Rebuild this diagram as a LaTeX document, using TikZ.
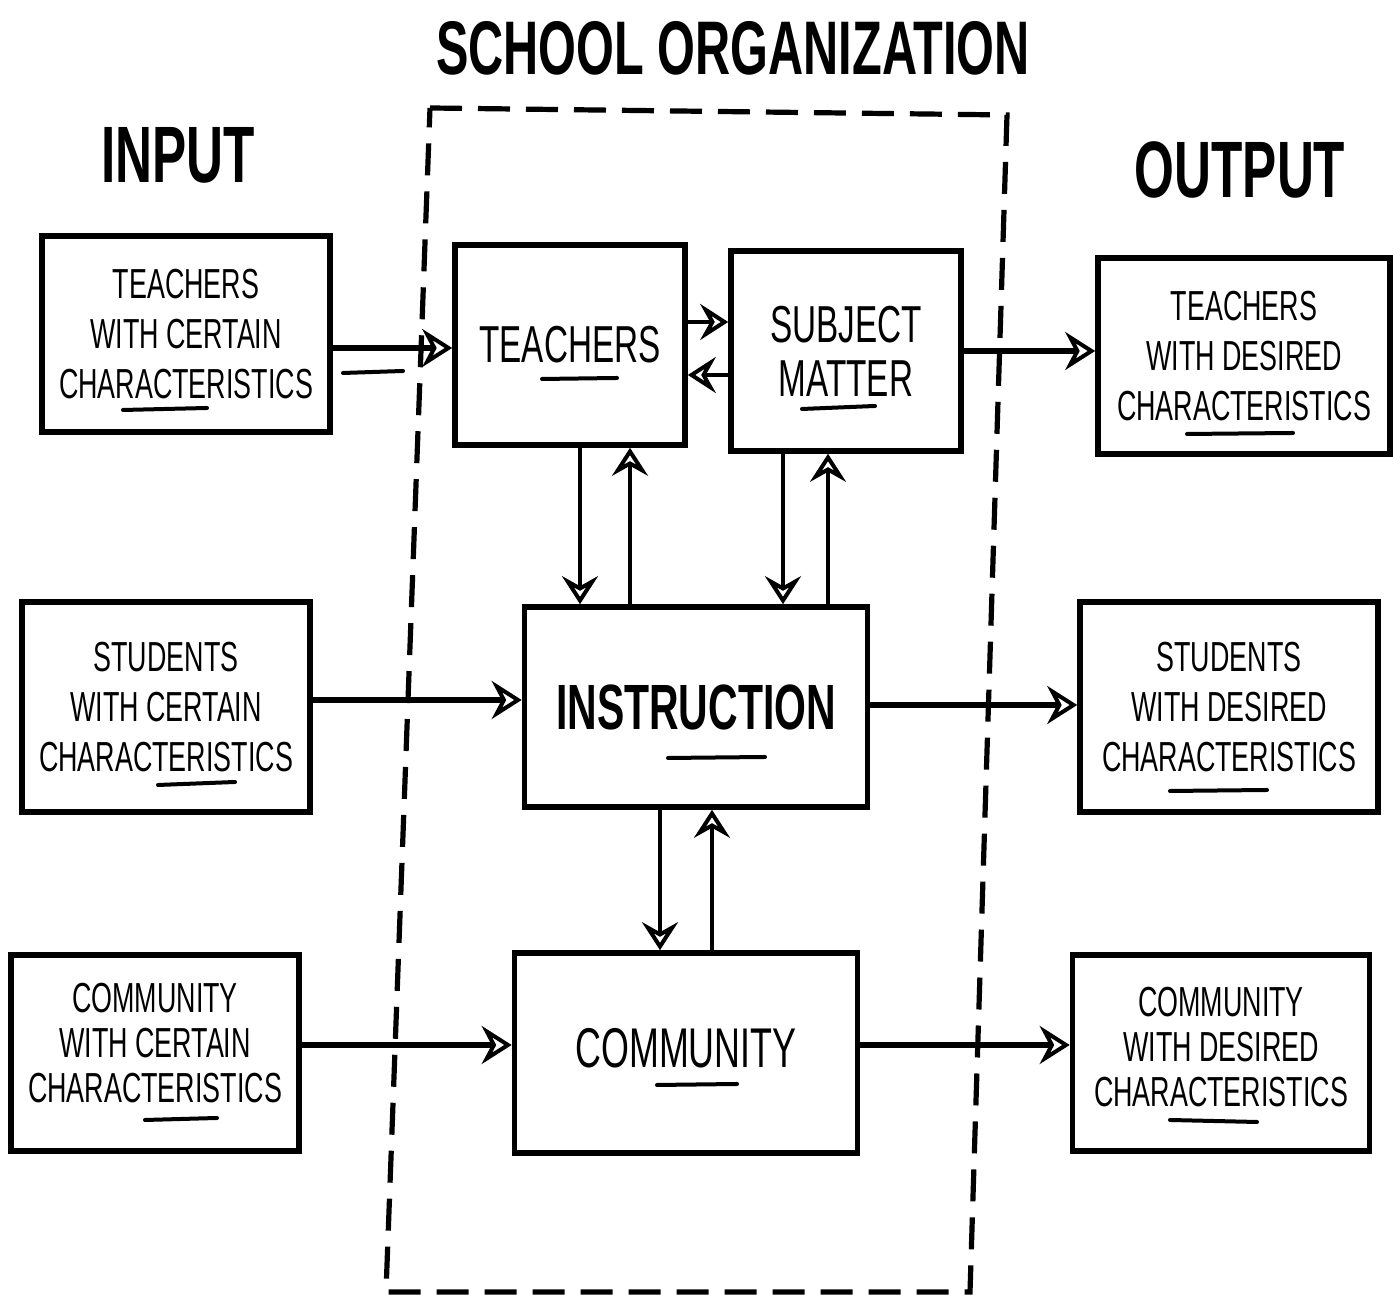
\documentclass[tikz,border=0pt]{standalone}
\usepackage{fontspec}
\usepackage{tikz}
\usetikzlibrary{arrows.meta}
\newfontfamily\handfont[FakeStretch=0.64]{Liberation Sans}

\begin{document}
\begin{tikzpicture}[x=0.25pt, y=-0.25pt, font=\handfont\fontsize{10.5}{12.5}\selectfont,
                    side/.style = {draw, line width=1.4pt, minimum width=72pt, minimum height=49pt, align=center, inner sep=2pt},
                    low/.style = {side, font=\handfont\fontsize{10.5}{11.25}\selectfont},
                    core/.style = {draw, line width=1.4pt, minimum width=57.5pt, minimum height=50pt, align=center, font=\handfont\fontsize{13}{13.5}\selectfont},
                    wide/.style = {core, minimum width=85.75pt},
                    head/.style = {font=\handfont\bfseries\fontsize{20}{22}\selectfont},
                    flow/.style = {-{Stealth[open, length=7.5pt, width=9.5pt, inset=2.5pt, line width=1pt]}, line width=1.7pt},
                    link/.style = {-{Stealth[open, length=7pt, width=9pt, inset=2.5pt, line width=1pt]}, line width=1pt},
                    ink/.style = {line width=1pt, line cap=round},
                    frame/.style = {line width=1.3pt, dash pattern=on 8pt off 4pt}]
                    \useasboundingbox (0,0) rectangle (1393,1301);
                    \node[head, font=\handfont\bfseries\fontsize{19}{22}\selectfont] (title) at (733,48) {SCHOOL ORGANIZATION};
                    \node[head] (inlab) at (178,155) {INPUT};
                    \node[head] (outlab) at (1240,170) {OUTPUT};
                    \node[core] (tea) at (570,345) {TEACHERS};
                    \node[core] (sub) [right of=tea, node distance=69pt, yshift=-1.5pt] {SUBJECT\\MATTER};
                    \node[wide, font=\handfont\bfseries\fontsize{16}{18}\selectfont] (ins) at (696,707) {INSTRUCTION};
                    \node[wide, font=\handfont\fontsize{14}{16}\selectfont] (com) [below of=ins, node distance=86.5pt, xshift=-2.5pt] {\raisebox{2.5pt}{COMMUNITY}};
                    \node[side] (tin) [left of=tea, node distance=96pt, yshift=2.75pt] {TEACHERS\\WITH CERTAIN\\CHARACTERISTICS};
                    \node[side, minimum height=52.5pt] (sin) [left of=ins, node distance=132.5pt] {STUDENTS\\WITH CERTAIN\\CHARACTERISTICS};
                    \node[low] (cin) [left of=com, node distance=132.75pt] {COMMUNITY\\WITH CERTAIN\\CHARACTERISTICS\\[-6pt]};
                    \node[side, minimum width=73pt] (tout) [right of=sub, node distance=99.5pt, yshift=-1.25pt] {TEACHERS\\WITH DESIRED\\CHARACTERISTICS};
                    \node[side, minimum width=74.5pt, minimum height=52.5pt] (sout) [right of=ins, node distance=133.25pt] {STUDENTS\\WITH DESIRED\\CHARACTERISTICS};
                    \node[low, minimum width=74.25pt] (cout) [right of=com, node distance=133.75pt] {COMMUNITY\\WITH DESIRED\\CHARACTERISTICS\\[-8pt]};
                    \draw[frame] (430,108) -- (1007,115) -- (970,1292) -- (386,1292) -- cycle;
                    \draw[flow] ([yshift=-3.5pt]tin.east) -- ([yshift=-0.75pt]tea.west);
                    \draw[flow] ([yshift=1.75pt]sin.east) -- ([yshift=1.75pt]ins.west);
                    \draw[flow] ([yshift=2pt]cin.east) -- ([yshift=2pt]com.west);
                    \draw[flow] (sub.east) -- ([yshift=1.25pt]tout.west);
                    \draw[flow] ([yshift=0.5pt]ins.east) -- ([yshift=0.5pt]sout.west);
                    \draw[flow] ([yshift=2pt]com.east) -- ([yshift=2pt]cout.west);
                    \draw[link] ([yshift=5.75pt]tea.east) -- ([yshift=7.25pt]sub.west);
                    \draw[link] ([yshift=-6pt]sub.west) -- ([yshift=-7.5pt]tea.east);
                    \draw[link] ([xshift=2.5pt]tea.south) -- ([xshift=-29pt]ins.north);
                    \draw[link] ([xshift=-16.5pt]ins.north) -- ([xshift=15pt]tea.south);
                    \draw[link] ([xshift=-15.75pt]sub.south) -- ([xshift=21.75pt]ins.north);
                    \draw[link] ([xshift=33pt]ins.north) -- ([xshift=-4.5pt]sub.south);
                    \draw[link] ([xshift=-9pt]ins.south) -- ([xshift=-6.5pt]com.north);
                    \draw[link] ([xshift=6.5pt]com.north) -- ([xshift=4pt]ins.south);
                    \draw[ink] (123,410) -- (207,408);
                    \draw[ink] (343,373) -- (403,371);
                    \draw[ink] (542,379) -- (617,378);
                    \draw[ink] (802,409) -- (875,406);
                    \draw[ink] (668,758) -- (765,757);
                    \draw[ink] (657,1085) -- (737,1084);
                    \draw[ink] (158,785) -- (235,782);
                    \draw[ink] (145,1120) -- (217,1118);
                    \draw[ink] (1187,434) -- (1293,433);
                    \draw[ink] (1170,791) -- (1267,790);
                    \draw[ink] (1170,1120) -- (1257,1122);
                \end{tikzpicture}
\end{document}
